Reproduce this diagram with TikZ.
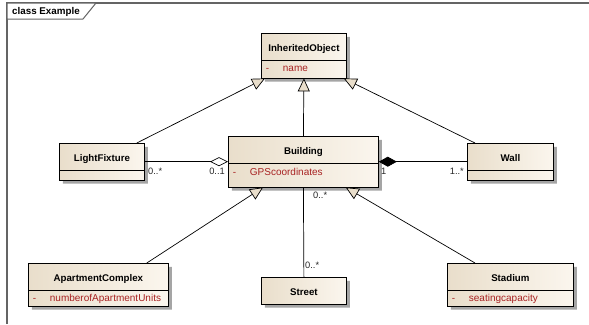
\documentclass[tikz,border=0pt]{standalone}
\usepackage{fontspec}
\setmainfont{Liberation Sans}
\usetikzlibrary{shapes.multipart,shadows,arrows.meta}
\setlength{\parindent}{0pt}
\definecolor{clsleft}{RGB}{233,222,203}
\definecolor{clsright}{RGB}{251,246,238}
\definecolor{attrred}{RGB}{168,34,34}
\definecolor{framegray}{RGB}{100,100,100}
\definecolor{shadowgray}{RGB}{165,165,165}

\newcommand{\clsname}[1]{\makebox[\linewidth][c]{\rule[-8.7pt]{0pt}{26pt}\fontsize{9.7}{11}\selectfont\textbf{#1}}}
\newcommand{\attrline}[3]{\rule[-#1]{0pt}{#2}\textcolor{attrred}{\makebox[17pt][l]{-}#3}}

\tikzset{
  cls/.style={rectangle split, rectangle split parts=2,
    rectangle split ignore empty parts, draw=black, line width=0.8pt,
    left color=clsleft, right color=clsright,
    inner xsep=4.5pt, inner ysep=0pt, align=left, anchor=north west,
    font=\fontsize{10}{11}\selectfont,
    drop shadow={shadow xshift=3.5pt, shadow yshift=-3.5pt, fill=shadowgray, opacity=1}},
  gen/.style={-{Triangle[length=13pt,width=12pt,fill=clsleft]}, line width=0.7pt},
  assoc/.style={line width=0.7pt},
  mult/.style={font=\fontsize{9.3}{10}\selectfont, inner sep=0pt, text=black!85}
}

\begin{document}
\begin{tikzpicture}[x=1pt,y=-1pt]
\useasboundingbox (0,0) rectangle (589,324);

% frame
\draw[framegray, line width=1.2pt] (7,324) -- (7,3) -- (589,3);
\draw[framegray, line width=1pt, fill=white] (7,3) -- (96,3) -- (83,19) -- (7,19) -- cycle;
\node[anchor=west, inner sep=0pt, font=\fontsize{9.8}{11}\selectfont\bfseries] (title) at (12,11.5) {class Example};

% classes
\node[cls, text width=76pt] (obj) at (261,33)
  {\clsname{InheritedObject}\nodepart{two}\attrline{6pt}{17pt}{name}};
\node[cls, text width=76pt] (lf) at (59,143)
  {\clsname{LightFixture}\nodepart{two}\rule{0pt}{9pt}};
\node[cls, text width=141pt] (bld) at (228,136)
  {\clsname{Building}\nodepart{two}\attrline{11.5pt}{23pt}{GPScoordinates}};
\node[cls, text width=77pt] (wall) at (467,143)
  {\clsname{Wall}\nodepart{two}\rule{0pt}{9pt}};
\node[cls, text width=131pt] (apt) at (28,263)
  {\clsname{ApartmentComplex}\nodepart{two}\attrline{4pt}{15pt}{numberofApartmentUnits}};
\node[cls, text width=76pt] (street) at (261,277)
  {\clsname{Street}};
\node[cls, text width=117pt] (stad) at (447,263)
  {\clsname{Stadium}\nodepart{two}\attrline{4pt}{15pt}{seatingcapacity}};

% generalizations
\draw[gen] ([xshift=-8pt]lf.north east) -- ([xshift=4pt]obj.south west);
\draw[gen] (bld.north) -- (obj.south);
\draw[gen] ([xshift=8pt]wall.north west) -- ([xshift=-3pt]obj.south east);
\draw[gen] ([xshift=-22pt]apt.north east) -- ([xshift=35pt]bld.south west);
\draw[gen] ([xshift=28pt]stad.north west) -- ([xshift=-33pt]bld.south east);

% associations
\draw[assoc, {Diamond[length=18pt,width=9pt,fill=white]}-] (bld.west) -- (lf.east);
\draw[assoc, {Diamond[length=18pt,width=10pt]}-] (bld.east) -- (wall.west);
\draw[assoc] (bld.south) -- (street.north);

% multiplicities
\node[mult, anchor=west] (m-lf) at (148,171) {0..*};
\node[mult, anchor=east] (m-bl) at (225,171) {0..1};
\node[mult, anchor=west] (m-br) at (381,171) {1};
\node[mult, anchor=east] (m-wall) at (464,171) {1..*};
\node[mult, anchor=west] (m-bs) at (313,195) {0..*};
\node[mult, anchor=west] (m-st) at (305,265) {0..*};
\end{tikzpicture}
\end{document}
